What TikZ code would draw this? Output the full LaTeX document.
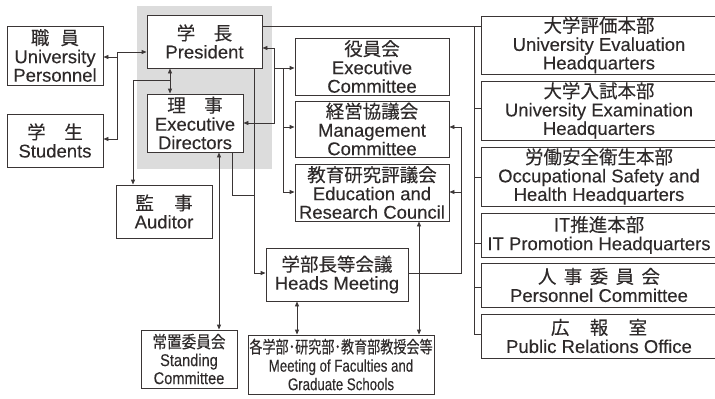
\documentclass[tikz,border=0pt]{standalone}
\usepackage{fontspec}
\usepackage{graphicx}
\setmainfont{Liberation Sans}[FakeBold=0.15]
\newfontfamily\jp{Noto Sans CJK JP}[FakeBold=0.12]
\usetikzlibrary{arrows.meta}
\definecolor{ln}{HTML}{3A3535}
\definecolor{tx}{HTML}{2E2A2A}
\definecolor{bgc}{HTML}{DCDCDC}
\begin{document}
\begin{tikzpicture}[x=1pt,y=-1pt,
 box/.style={draw=ln,line width=0.9pt,fill=white,text=tx,inner sep=0pt,align=center,font=\fontsize{18.5}{18.5}\selectfont},
 con/.style={draw=ln,line width=0.9pt},
 >={Triangle[length=5pt,width=4pt]}
]
\useasboundingbox (0,0) rectangle (715,399);
\fill[bgc] (137,6) rectangle (272,169);
% boxes
\node[box,minimum width=96pt,minimum height=59pt] (pers) at (55,55.5) {{\jp 職\hspace{0.6em}員}\\University\\Personnel};
\node[box,minimum width=96pt,minimum height=53pt] (stud) at (55,140.5) {{\jp 学\hspace{1em}生}\\Students};
\node[box,minimum width=115pt,minimum height=53pt] (pres) at (204.5,41.5) {{\jp 学\hspace{1em}長}\\President};
\node[box,minimum width=96pt,minimum height=58pt] (exd) at (195,123) {{\jp 理\hspace{1em}事}\\Executive\\Directors};
\node[box,minimum width=96pt,minimum height=53pt] (aud) at (164,211.5) {{\jp 監\hspace{1.1em}事}\\Auditor};
\node[box,minimum width=96pt,minimum height=58pt,font=\fontsize{17}{18}\selectfont] (stand) at (189,359) {\scalebox{0.86}[1]{\jp 常置委員会}\\\scalebox{0.86}[1]{Standing}\\\scalebox{0.86}[1]{Committee}};
\node[box,minimum width=154pt,minimum height=57pt] (exc) at (372,66.5) {{\jp 役員会}\\Executive\\Committee};
\node[box,minimum width=154pt,minimum height=56pt] (mgmt) at (372,129) {{\jp 経営協議会}\\Management\\Committee};
\node[box,minimum width=154pt,minimum height=57pt] (edu) at (372,192.5) {{\jp 教育研究評議会}\\Education and\\Research Council};
\node[box,minimum width=142pt,minimum height=53pt] (heads) at (337,274.5) {{\jp 学部長等会議}\\Heads Meeting};
\node[box,minimum width=186pt,minimum height=59pt,font=\fontsize{17}{18.5}\selectfont] (fac) at (341,364.5) {\scalebox{0.77}[1]{\jp 各学部･研究部･教育部教授会等}\\\scalebox{0.78}[1]{Meeting of Faculties and}\\\scalebox{0.78}[1]{Graduate Schools}};
\node[box,minimum width=236pt,minimum height=58pt] (r1) at (599,45) {{\jp 大学評価本部}\\University Evaluation\\Headquarters};
\node[box,minimum width=236pt,minimum height=59pt] (r2) at (599,110.5) {{\jp 大学入試本部}\\University Examination\\Headquarters};
\node[box,minimum width=236pt,minimum height=59pt] (r3) at (599,176.5) {{\jp 労働安全衛生本部}\\Occupational Safety and\\Health Headquarters};
\node[box,minimum width=236pt,minimum height=44pt] (r4) at (599,235) {{\jp IT推進本部}\\IT Promotion Headquarters};
\node[box,minimum width=236pt,minimum height=44pt] (r5) at (599,285) {{\jp 人\hspace{0.4em}事\hspace{0.4em}委\hspace{0.4em}員\hspace{0.4em}会}\\Personnel Committee};
\node[box,minimum width=236pt,minimum height=44pt] (r6) at (599,336) {{\jp 広\hspace{1.1em}報\hspace{1.1em}室}\\Public Relations Office};
% junction coordinates
\coordinate (ps) at (117,52);
\coordinate (ps2) at (117,139);
\coordinate (pp) at (117,57);
\coordinate (v1) at (170,80);
\coordinate (a1) at (133,80);
\coordinate (rt) at (274,48);
\coordinate (rb) at (274,123);
\coordinate (c1) at (274,68);
\coordinate (c2) at (283,68);
\coordinate (c3) at (283,192);
\coordinate (c4) at (283,127);
\coordinate (t1) at (474,26);
\coordinate (t6) at (474,334);
\coordinate (t2) at (474,108);
\coordinate (t3) at (474,177);
\coordinate (t4) at (474,243);
\coordinate (t5) at (474,287);
\coordinate (h1) at (254,273);
\coordinate (e1) at (232,195);
\coordinate (s1) at (219,200);
\coordinate (f1) at (297,320);
\coordinate (f2) at (419,300);
\coordinate (m1) at (461,273);
\coordinate (m2) at (461,127);
\coordinate (m3) at (461,192);
% connectors
\draw[con,<->] (stud.east |- ps2) -- (ps2) -- (ps) -- (pres.west |- ps);
\draw[con,->] (pp) -- (pers.east |- pp);
\draw[con,<->] (pres.south -| v1) -- (exd.north -| v1);
\draw[con,->] (v1) -- (a1) -- (aud.north -| a1);
\draw[con,<->] (pres.east |- rt) -- (rt) -- (rb) -- (exd.east |- rb);
\draw[con,->] (c1) -- (exc.west |- c1);
\draw[con,->] (c2) -- (c3) -- (edu.west |- c3);
\draw[con,->] (c4) -- (mgmt.west |- c4);
\draw[con] (pres.east |- t1) -- (r1.west |- t1);
\draw[con] (t1) -- (t6) -- (r6.west |- t6);
\draw[con] (t2) -- (r2.west |- t2);
\draw[con] (t3) -- (r3.west |- t3);
\draw[con] (t4) -- (r4.west |- t4);
\draw[con] (t5) -- (r5.west |- t5);
\draw[con,->] (pres.south -| h1) -- (h1) -- (heads.west |- h1);
\draw[con] (exd.south -| e1) -- (e1) -- (h1 |- e1);
\draw[con,<->] (exd.south -| s1) -- (stand.north -| s1);
\draw[con,<->] (heads.south -| f1) -- (fac.north -| f1);
\draw[con,<->] (edu.south -| f2) -- (fac.north -| f2);
\draw[con,->] (heads.east |- m1) -- (m1) -- (m2) -- (mgmt.east |- m2);
\draw[con,->] (m3) -- (edu.east |- m3);
\end{tikzpicture}
\end{document}
